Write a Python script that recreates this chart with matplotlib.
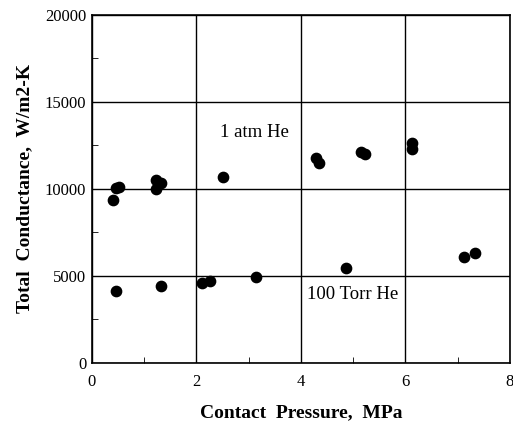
import matplotlib
matplotlib.use("Agg")
import matplotlib.pyplot as plt
from matplotlib.ticker import MultipleLocator

# 1 atm He data
p_atm = [0.41, 0.46, 0.52, 1.22, 1.22, 1.33, 2.51, 4.28, 4.35, 5.16, 5.22, 6.12, 6.12]
h_atm = [9370, 10060, 10130, 9980, 10520, 10330, 10710, 11760, 11480, 12110, 12010, 12630, 12280]

# 100 Torr He data
p_torr = [0.46, 1.32, 2.10, 2.26, 3.15, 4.87, 7.12, 7.34]
h_torr = [4140, 4430, 4580, 4730, 4960, 5440, 6070, 6300]

plt.rcParams["font.family"] = ["Liberation Serif", "DejaVu Serif"]

fig = plt.figure(figsize=(5.13, 4.26), dpi=100)
ax = fig.add_axes([0.179, 0.148, 0.815, 0.817])

ax.scatter(p_atm, h_atm, s=55, color="black", zorder=3)
ax.scatter(p_torr, h_torr, s=55, color="black", zorder=3)

ax.set_xlim(0, 8)
ax.set_ylim(0, 20000)
ax.xaxis.set_major_locator(MultipleLocator(2))
ax.yaxis.set_major_locator(MultipleLocator(5000))
ax.xaxis.set_minor_locator(MultipleLocator(1))
ax.yaxis.set_minor_locator(MultipleLocator(2500))
ax.grid(True, which="major", color="black", linewidth=1.0)
ax.tick_params(which="both", direction="in", labelsize=12, color="black")
ax.tick_params(which="major", length=0, pad=8)
ax.tick_params(which="minor", length=4)
ax.tick_params(axis="y", pad=4)
for s in ax.spines.values():
    s.set_linewidth(1.2)

ax.text(3.12, 13220, "1 atm He", fontsize=13.5, ha="center", va="center")
ax.text(4.99, 3910, "100 Torr He", fontsize=13.5, ha="center", va="center")

ax.set_xlabel("Contact  Pressure,  MPa", fontsize=14, fontweight="bold", labelpad=10)
ax.set_ylabel("Total  Conductance,  W/m2-K", fontsize=14, fontweight="bold", labelpad=8)

fig.savefig("out.png", dpi=100)
